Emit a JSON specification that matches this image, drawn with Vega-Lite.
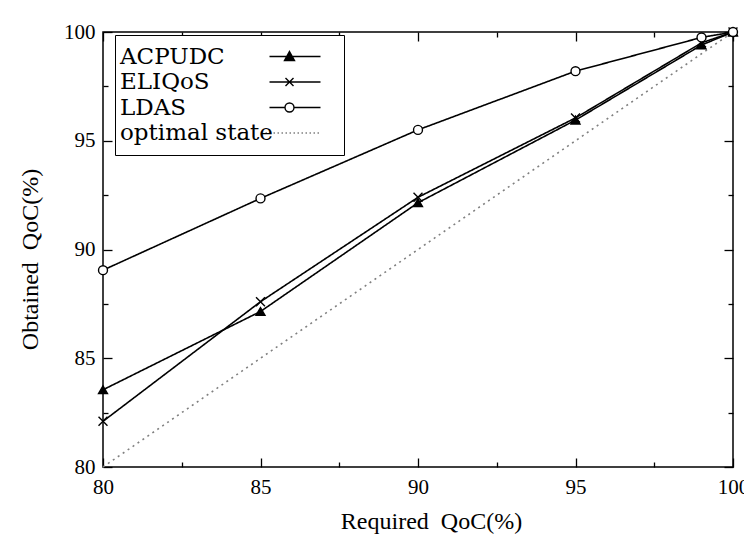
{
  "$schema": "https://vega.github.io/schema/vega-lite/v6.json",
  "width": 630,
  "height": 435,
  "autosize": {"type": "none"},
  "padding": {"left": 103, "top": 32, "right": 11, "bottom": 69},
  "background": "white",
  "config": {
    "view": {"stroke": "black", "strokeWidth": 1.5},
    "axis": {
      "labelFont": "Liberation Serif",
      "labelFontSize": 21,
      "labelColor": "black",
      "titleFont": "Liberation Serif",
      "titleFontSize": 24,
      "titleFontWeight": "normal",
      "titleColor": "black",
      "grid": false,
      "domain": false,
      "ticks": true,
      "tickColor": "black",
      "tickOpacity": 1,
      "tickWidth": 1.3,
      "zindex": 2,
      "labelOverlap": false,
      "labelFlush": false
    }
  },
  "data": {
    "values": [
      {"series": "ACPUDC", "req": 80, "obt": 83.55},
      {"series": "ACPUDC", "req": 85, "obt": 87.15},
      {"series": "ACPUDC", "req": 90, "obt": 92.15},
      {"series": "ACPUDC", "req": 95, "obt": 95.95},
      {"series": "ACPUDC", "req": 99, "obt": 99.4},
      {"series": "ACPUDC", "req": 100, "obt": 100},
      {"series": "ELIQoS", "req": 80, "obt": 82.1},
      {"series": "ELIQoS", "req": 85, "obt": 87.6},
      {"series": "ELIQoS", "req": 90, "obt": 92.4},
      {"series": "ELIQoS", "req": 95, "obt": 96.05},
      {"series": "ELIQoS", "req": 99, "obt": 99.5},
      {"series": "ELIQoS", "req": 100, "obt": 100},
      {"series": "LDAS", "req": 80, "obt": 89.05},
      {"series": "LDAS", "req": 85, "obt": 92.35},
      {"series": "LDAS", "req": 90, "obt": 95.5},
      {"series": "LDAS", "req": 95, "obt": 98.2},
      {"series": "LDAS", "req": 99, "obt": 99.75},
      {"series": "LDAS", "req": 100, "obt": 100},
      {"series": "optimal state", "req": 80, "obt": 80},
      {"series": "optimal state", "req": 100, "obt": 100}
    ]
  },
  "resolve": {
    "axis": {"x": "independent", "y": "independent"},
    "scale": {"shape": "independent", "fill": "independent", "stroke": "independent", "strokeDash": "independent"}
  },
  "layer": [
    {
      "mark": {"type": "line", "strokeWidth": 1.6},
      "encoding": {
        "x": {
          "field": "req", "type": "quantitative",
          "scale": {"domain": [80, 100], "nice": false, "zero": false},
          "axis": {
            "orient": "bottom",
            "values": [80, 82.5, 85, 87.5, 90, 92.5, 95, 97.5, 100],
            "labelExpr": "datum.value % 5 === 0 ? datum.label : ''",
            "tickSize": {"condition": {"test": "datum.value % 5 === 0", "value": -9}, "value": -5},
            "labelPadding": 18,
            "title": "Required\u00a0 QoC(%)",
            "titlePadding": 8,
            "titleX": 328
          }
        },
        "y": {
          "field": "obt", "type": "quantitative",
          "scale": {"domain": [80, 100], "nice": false, "zero": false},
          "axis": {
            "orient": "left",
            "values": [80, 82.5, 85, 87.5, 90, 92.5, 95, 97.5, 100],
            "labelExpr": "datum.value % 5 === 0 ? datum.label : ''",
            "tickSize": {"condition": {"test": "datum.value % 5 === 0", "value": -9}, "value": -5},
            "labelPadding": 17,
            "title": "Obtained\u00a0 QoC(%)",
            "titlePadding": 21,
            "titleY": 227
          }
        },
        "detail": {"field": "series"},
        "stroke": {
          "field": "series", "type": "nominal",
          "scale": {"domain": ["ACPUDC", "ELIQoS", "LDAS", "optimal state"], "range": ["black", "black", "black", "#808080"]},
          "legend": null
        },
        "strokeDash": {
          "field": "series", "type": "nominal",
          "scale": {"domain": ["ACPUDC", "ELIQoS", "LDAS", "optimal state"], "range": [[1, 0], [1, 0], [1, 0], [2, 4]]},
          "legend": null
        }
      }
    },
    {
      "transform": [{"filter": "datum.series !== 'optimal state'"}],
      "mark": {"type": "point", "stroke": "black", "strokeWidth": 1.4, "opacity": 1, "size": 80},
      "encoding": {
        "x": {
          "field": "req", "type": "quantitative",
          "scale": {"domain": [80, 100], "nice": false, "zero": false},
          "axis": {
            "orient": "top",
            "values": [80, 82.5, 85, 87.5, 90, 92.5, 95, 97.5, 100],
            "labels": false,
            "tickSize": {"condition": {"test": "datum.value % 5 === 0", "value": -9}, "value": -5},
            "title": null
          }
        },
        "y": {
          "field": "obt", "type": "quantitative",
          "scale": {"domain": [80, 100], "nice": false, "zero": false},
          "axis": {
            "orient": "right",
            "values": [80, 82.5, 85, 87.5, 90, 92.5, 95, 97.5, 100],
            "labels": false,
            "tickSize": {"condition": {"test": "datum.value % 5 === 0", "value": -9}, "value": -5},
            "title": null
          }
        },
        "shape": {
          "field": "series", "type": "nominal",
          "scale": {"domain": ["ACPUDC", "ELIQoS", "LDAS"], "range": ["triangle-up", "M-1,-1L1,1M1,-1L-1,1", "circle"]},
          "legend": null
        },
        "fill": {
          "field": "series", "type": "nominal",
          "scale": {"domain": ["ACPUDC", "ELIQoS", "LDAS"], "range": ["black", "transparent", "white"]},
          "legend": null
        }
      }
    },
    {
      "mark": {"type": "point", "opacity": 0},
      "encoding": {
        "x": {"field": "req", "type": "quantitative", "scale": {"domain": [80, 100], "nice": false, "zero": false}, "axis": null},
        "y": {"field": "obt", "type": "quantitative", "scale": {"domain": [80, 100], "nice": false, "zero": false}, "axis": null},
        "shape": {
          "field": "series", "type": "nominal",
          "scale": {
            "domain": ["ACPUDC", "ELIQoS", "LDAS", "optimal state"],
            "range": [
              "M133,0L184,0M153,-5L158,4L148,4ZM151.9,-3H154.1M151.3,-2H154.7M150.8,-1H155.2M150.2,0H155.8M149.7,1H156.3M149.1,2H156.9M148.6,3H157.4M194,0",
              "M133,0L184,0M149,-4L157,4M157,-4L149,4",
              "M133,0L148.5,0M157.5,0L184,0M157.5,0A4.5,4.5 0 1,1 148.5,0A4.5,4.5 0 1,1 157.5,0Z",
              "M129,0L130.5,0M133,0L134.5,0M137,0L138.5,0M141,0L142.5,0M145,0L146.5,0M149,0L150.5,0M153,0L154.5,0M157,0L158.5,0M161,0L162.5,0M165,0L166.5,0M169,0L170.5,0M173,0L174.5,0M177,0L178.5,0M181,0L182.5,0"
            ]
          },
          "legend": {
            "title": null,
            "orient": "none",
            "legendX": 12,
            "legendY": 3,
            "padding": 10,
            "strokeColor": "black",
            "fillColor": "white",
            "labelFont": "DejaVu Serif",
            "labelFontSize": 23,
            "labelColor": "black",
            "labelOffset": -28,
            "symbolSize": 4,
            "symbolStrokeWidth": 1.4,
            "rowPadding": 1.5,
            "labelLimit": 400,
            "encode": {
              "symbols": {"update": {"opacity": {"value": 1}}}
            }
          }
        },
        "stroke": {
          "field": "series", "type": "nominal",
          "scale": {"domain": ["ACPUDC", "ELIQoS", "LDAS", "optimal state"], "range": ["black", "black", "black", "#808080"]},
          "legend": {"title": null}
        }
      }
    }
  ]
}
